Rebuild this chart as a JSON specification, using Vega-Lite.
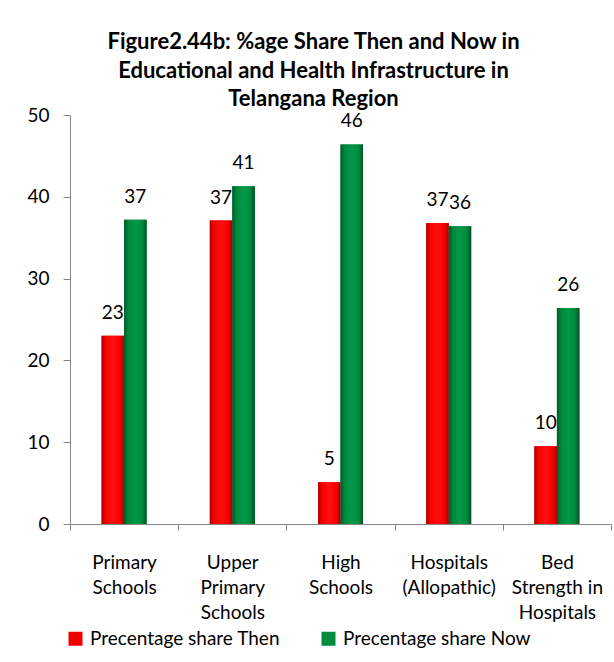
{
  "$schema": "https://vega.github.io/schema/vega-lite/v6.json",
  "width": 541,
  "height": 409,
  "autosize": {"type": "none"},
  "padding": {"left": 70, "top": 115, "right": 3, "bottom": 138},
  "background": "white",
  "title": {
    "text": ["Figure2.44b: %age Share Then and Now in", "Educational and Health Infrastructure in", "Telangana Region"],
    "font": "Lato",
    "fontSize": 22,
    "fontWeight": "bold",
    "color": "#000000",
    "lineHeight": 28.5,
    "anchor": "middle",
    "dx": -27,
    "offset": -5
  },
  "data": {
    "values": [
      {"category": "Primary Schools", "series": "Precentage share Then", "value": 23.0},
      {"category": "Primary Schools", "series": "Precentage share Now", "value": 37.2},
      {"category": "Upper Primary Schools", "series": "Precentage share Then", "value": 37.1},
      {"category": "Upper Primary Schools", "series": "Precentage share Now", "value": 41.3},
      {"category": "High Schools", "series": "Precentage share Then", "value": 5.1},
      {"category": "High Schools", "series": "Precentage share Now", "value": 46.4},
      {"category": "Hospitals (Allopathic)", "series": "Precentage share Then", "value": 36.8},
      {"category": "Hospitals (Allopathic)", "series": "Precentage share Now", "value": 36.4},
      {"category": "Bed Strength in Hospitals", "series": "Precentage share Then", "value": 9.5},
      {"category": "Bed Strength in Hospitals", "series": "Precentage share Now", "value": 26.4}
    ]
  },
  "encoding": {
    "x": {
      "field": "category",
      "type": "nominal",
      "sort": null,
      "scale": {"paddingInner": 0, "paddingOuter": 0},
      "axis": {
        "title": null,
        "labelAngle": 0,
        "labelFont": "Lato",
        "labelFontSize": 19,
        "labelColor": "#000000",
        "labelLineHeight": 25,
        "labelBaseline": "top",
        "labelPadding": 23,
        "labelExpr": "datum.label == 'Bed Strength in Hospitals' ? ['Bed', 'Strength in', 'Hospitals'] : split(datum.label, ' ')",
        "domainColor": "#868686",
        "tickColor": "#868686",
        "tickSize": 6,
        "tickBand": "extent"
      }
    },
    "xOffset": {
      "field": "series",
      "type": "nominal",
      "sort": ["Precentage share Then", "Precentage share Now"],
      "scale": {"range": [31.6, 76.6], "paddingInner": 0, "paddingOuter": 0}
    },
    "y": {
      "field": "value",
      "type": "quantitative",
      "scale": {"domain": [0, 50]},
      "axis": {
        "title": null,
        "grid": false,
        "values": [0, 10, 20, 30, 40, 50],
        "labelFont": "Lato",
        "labelFontSize": 19,
        "labelColor": "#000000",
        "labelPadding": 14,
        "domainColor": "#868686",
        "tickColor": "#868686",
        "tickSize": 7
      }
    }
  },
  "layer": [
    {
      "mark": {"type": "bar"},
      "encoding": {
        "color": {
          "field": "series",
          "type": "nominal",
          "sort": ["Precentage share Then", "Precentage share Now"],
          "scale": {"range": ["#F20000", "#008C3E"]},
          "legend": {
            "title": null,
            "orient": "none",
            "direction": "horizontal",
            "legendX": -4,
            "legendY": 514,
            "symbolType": "square",
            "symbolSize": 196,
            "symbolStrokeWidth": 0,
            "labelFont": "Lato",
            "labelFontSize": 19,
            "labelColor": "#000000",
            "labelOffset": 5,
            "columnPadding": 38,
            "padding": 0,
            "labelLimit": 400
          }
        }
      }
    },
    {
      "transform": [{"filter": "datum.series == 'Precentage share Then'"}],
      "mark": {
        "type": "bar",
        "fill": {
          "gradient": "linear", "x1": 0, "x2": 1, "y1": 0, "y2": 0,
          "stops": [
            {"offset": 0, "color": "#B00000"},
            {"offset": 0.18, "color": "#F50000"},
            {"offset": 0.5, "color": "#FF1010"},
            {"offset": 0.82, "color": "#F50000"},
            {"offset": 1, "color": "#A80000"}
          ]
        }
      }
    },
    {
      "transform": [{"filter": "datum.series == 'Precentage share Now'"}],
      "mark": {
        "type": "bar",
        "fill": {
          "gradient": "linear", "x1": 0, "x2": 1, "y1": 0, "y2": 0,
          "stops": [
            {"offset": 0, "color": "#005A2A"},
            {"offset": 0.2, "color": "#008A3E"},
            {"offset": 0.5, "color": "#009848"},
            {"offset": 0.8, "color": "#008A3E"},
            {"offset": 1, "color": "#005226"}
          ]
        }
      }
    },
    {
      "mark": {"type": "text", "dy": -23, "baseline": "middle", "font": "Lato", "fontSize": 19, "color": "#000000"},
      "encoding": {"text": {"field": "value", "type": "quantitative", "format": ".0f"}}
    }
  ],
  "config": {"view": {"stroke": null}}
}
